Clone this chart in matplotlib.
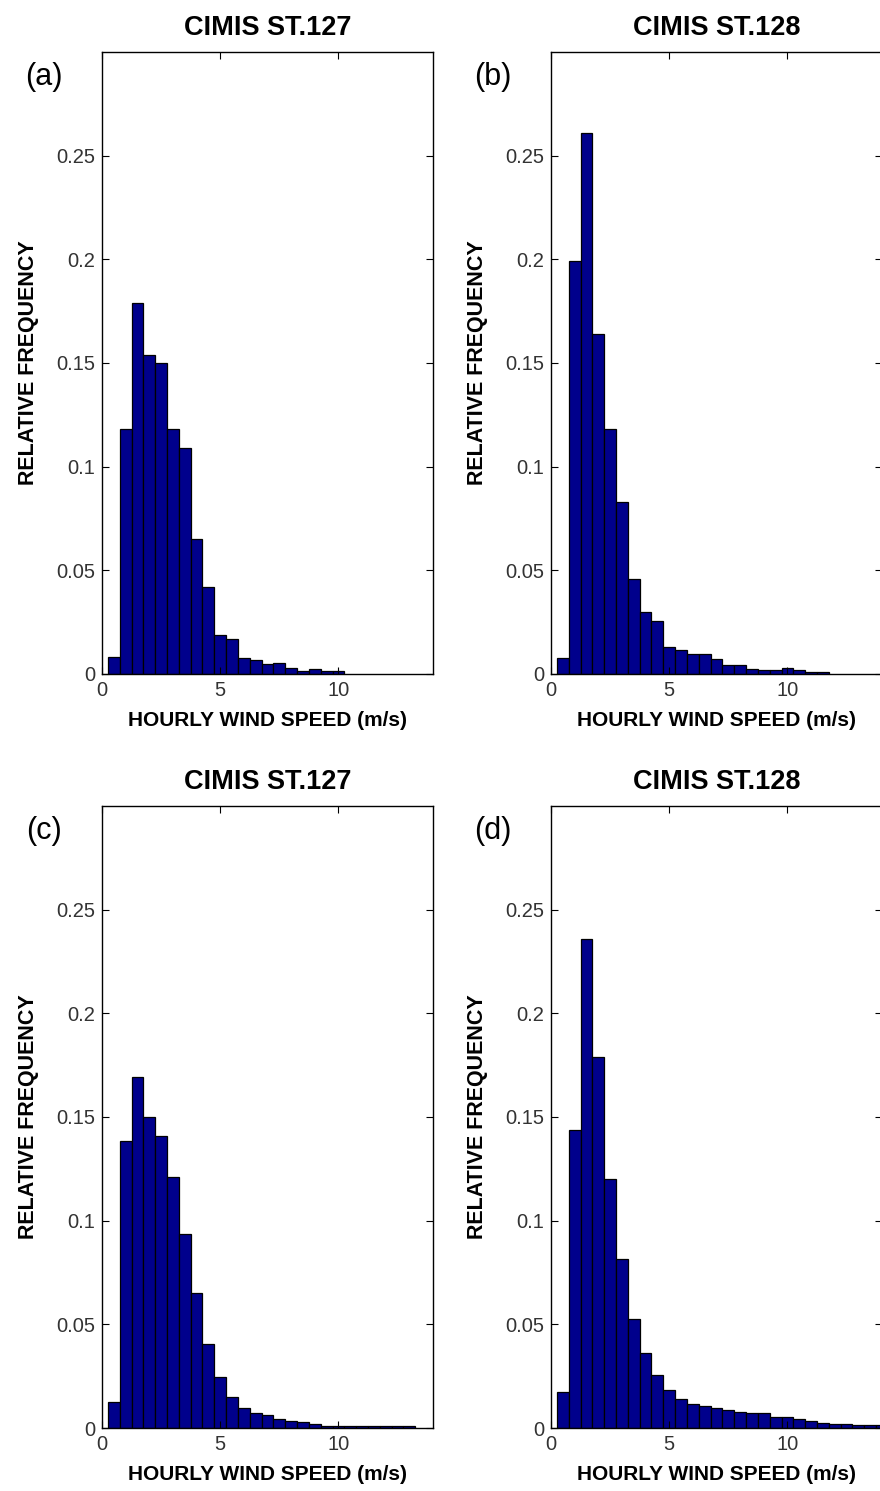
import numpy as np
import matplotlib; matplotlib.use('Agg')
import matplotlib.pyplot as plt

# bin centres are 0.5 m/s apart (MATLAB hist style)
BIN_W = 0.5

freq_a = [0.0083, 0.118, 0.179, 0.154, 0.150, 0.118, 0.109, 0.065, 0.042, 0.019,
          0.017, 0.0077, 0.0069, 0.0046, 0.0052, 0.0031, 0.0014, 0.0022, 0.0014, 0.0014]
freq_b = [0.0076, 0.199, 0.261, 0.164, 0.118, 0.083, 0.046, 0.030, 0.0255, 0.013,
          0.0114, 0.0095, 0.0095, 0.007, 0.0042, 0.0042, 0.0025, 0.0019, 0.0019, 0.0029,
          0.0019, 0.001, 0.001]
freq_c = [0.0126, 0.1385, 0.1695, 0.150, 0.1406, 0.121, 0.0938, 0.065, 0.0406, 0.0246,
          0.0148, 0.0096, 0.0071, 0.0065, 0.0045, 0.0036, 0.0028, 0.0019, 0.001, 0.001,
          0.001, 0.001, 0.001, 0.001, 0.001, 0.001]
freq_d = [0.0174, 0.1437, 0.2357, 0.179, 0.120, 0.0814, 0.0525, 0.036, 0.0255, 0.0182,
          0.0139, 0.0117, 0.0108, 0.0095, 0.0086, 0.0079, 0.0071, 0.0071, 0.0052, 0.0052,
          0.0043, 0.0034, 0.0026, 0.0019, 0.0019, 0.0014, 0.0014, 0.0014]

titles = ['CIMIS ST.127', 'CIMIS ST.128', 'CIMIS ST.127', 'CIMIS ST.128']
tags = ['(a)', '(b)', '(c)', '(d)']
yticks = [0, 0.05, 0.1, 0.15, 0.2, 0.25]
ytick_labels = ['0', '0.05', '0.1', '0.15', '0.2', '0.25']
xticks = [0, 5, 10]

W, H = 880, 1491
fig = plt.figure(figsize=(W / 100, H / 100), dpi=100)

# axes boxes in pixels: left, top, right, bottom
boxes = [(102, 52, 433, 674), (551, 52, 882, 674),
         (102, 806, 433, 1428), (551, 806, 882, 1428)]
data = [freq_a, freq_b, freq_c, freq_d]

for k, (freq, (l, t, r, b)) in enumerate(zip(data, boxes)):
    ax = fig.add_axes([l / W, 1 - b / H, (r - l) / W, (b - t) / H])
    centers = BIN_W * np.arange(1, len(freq) + 1)
    ax.bar(centers, freq, width=BIN_W, color='#00008c', edgecolor='black',
           linewidth=0.9)
    ax.set_xlim(0, 14)
    ax.set_ylim(0, 0.3)
    ax.set_yticks(yticks)
    ax.set_yticklabels(ytick_labels)
    ax.set_xticks(xticks)
    ax.tick_params(direction='in', length=5, width=0.8, top=True, right=True,
                   labelsize=14.5, labelcolor='#333333', pad=5)
    for lab in ax.get_xticklabels() + ax.get_yticklabels():
        lab.set_family('Liberation Sans')
    for sp in ax.spines.values():
        sp.set_linewidth(1.0)
    ax.set_xlabel('HOURLY WIND SPEED (m/s)', fontsize=15, fontweight='bold',
                  family='Liberation Sans', labelpad=8)
    ax.set_ylabel('RELATIVE FREQUENCY', fontsize=15.5, fontweight='bold',
                  family='Liberation Sans', labelpad=12)
    ax.set_title(titles[k], fontsize=19.5, fontweight='bold',
                 family='Liberation Sans', pad=12)
    fig.text((l - 58) / W, 1 - (t + 25) / H, tags[k], fontsize=22,
             family='Liberation Sans', ha='center', va='center')

fig.savefig('out.png', dpi=100)
